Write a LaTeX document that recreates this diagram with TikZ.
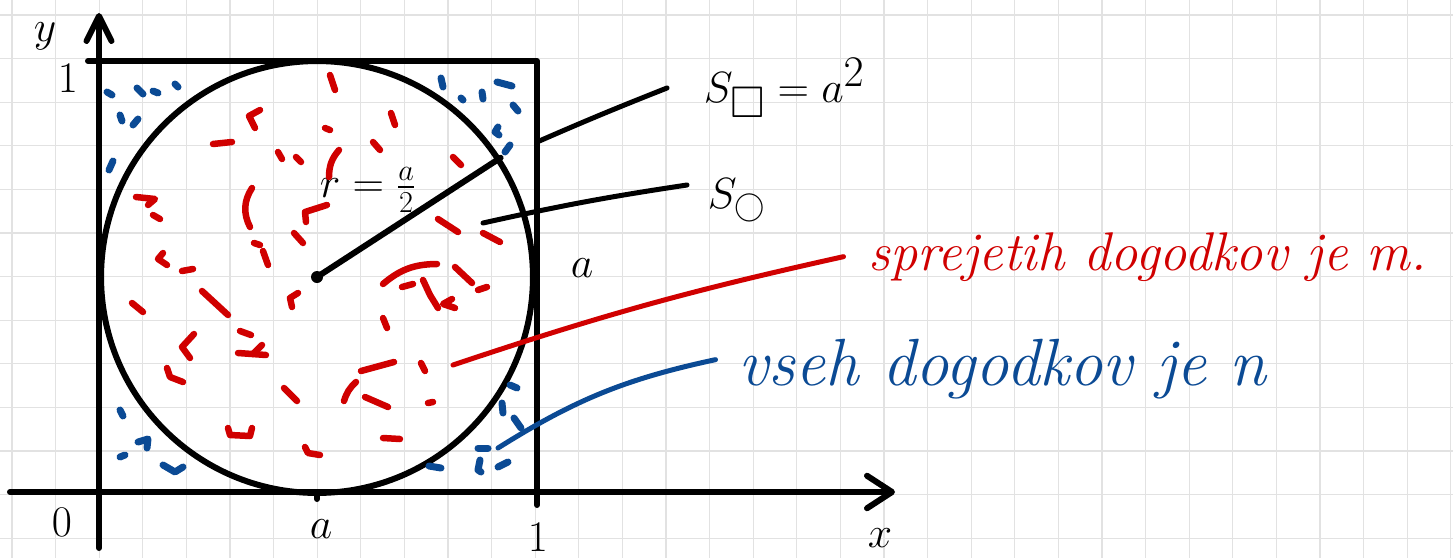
\documentclass[tikz,border=0pt]{standalone}
\usepackage{amsmath,amssymb}
\usepackage{xcolor}
\usepackage{tikz}
\usetikzlibrary{arrows.meta, positioning, calc}
\definecolor{redink}{HTML}{D00000}
\definecolor{blueink}{HTML}{0B4A94}
\definecolor{gridgray}{HTML}{E2E2E2}

\begin{document}
\begin{tikzpicture}[x=0.02cm, y=-0.02cm,
  ink/.style={line width=0.12cm, line cap=round, line join=round},
  leader/.style={line width=0.1cm, line cap=round},
  redmark/.style={draw=redink, line width=0.13cm, line cap=round, line join=round},
  bluemark/.style={draw=blueink, line width=0.14cm, line cap=round, line join=round},
  gridline/.style={gridgray, line width=0.6pt},
  lab/.style={inner sep=2pt, font=\fontsize{30}{36}\selectfont}]
  \useasboundingbox (0,0) rectangle (1453,558);

  % Paper grid
  \foreach \k in {0,...,33}
    \draw[gridline] ({12+43.6*\k},0) -- ({12+43.6*\k},558);
  \foreach \k in {0,...,12}
    \draw[gridline] (0,{15+43.6*\k}) -- (1453,{15+43.6*\k});

  % Axes
  \coordinate (xstart) at (10,492);
  \coordinate (xend) at (895,492);
  \coordinate (ystart) at (99,548);
  \coordinate (yend) at (99,13);
  \draw[ink, -{Straight Barb[length=5mm, width=6.5mm, round]}] (xstart) -- (xend);
  \draw[ink, -{Straight Barb[length=5mm, width=5mm, round]}] (ystart) -- (yend);

  % Square and circle
  \draw[ink] (88,61) -- (537,61) -- (537,505);
  \draw[ink] (317,492) -- (317,499);
  \node[ink, draw, circle, minimum size=8.64cm, inner sep=0pt] (circ) at (317,277) {};
  \fill (circ.center) circle (0.12cm);
  \draw[ink] (circ.center) -- (circ.33.8);

  % Axis labels
  \node[lab] (ylab) at (45,36) {$y$};
  \node[lab] (oneleft) at (68,78) {$1$};
  \node[lab] (zero) at (62,522) {$0$};
  \node[lab] (abot) at (321,529) {$a$};
  \node[lab] (onebot) at (538,537) {$1$};
  \node[lab] (xlab) at (880,538) {$x$};
  \node[lab] (aside) at (582,268) {$a$};
  \node[lab, font=\fontsize{25}{30}\selectfont] (rlab) at (368,190) {$r=\frac{a}{2}$};

  % Area labels
  \node[lab, anchor=west, font=\fontsize{36}{42}\selectfont] (sqlab) at (700,88) {$S_{\square}=a^2$};
  \node[lab, anchor=west, font=\fontsize{36}{42}\selectfont] (cirlab) at (704,200) {$S_{\scriptscriptstyle\bigcirc}$};
  \node[lab, anchor=base west, redink, font=\fontsize{31}{36}\selectfont\itshape] (acclab) at (865,270) {sprejetih dogodkov je m.};
  \node[lab, anchor=base west, blueink, font=\fontsize{38}{44}\selectfont\itshape] (alllab) at (735,385) {vseh dogodkov je n};

  % Leaders
  \coordinate (sqfoot) at (537,142);
  \coordinate (cirfoot) at (483,223);
  \coordinate (accfoot) at (453,365);
  \coordinate (allfoot) at (498,448);
  \draw[leader] (sqfoot) to[bend left=1] ([xshift=-0.66cm]sqlab.west);
  \draw[leader] (cirfoot) to[bend left=2] ([xshift=-0.34cm, yshift=0.3cm]cirlab.west);
  \draw[leader, redink] (accfoot) to[bend left=3] ([xshift=-0.43cm]acclab.west);
  \draw[leader, blueink] (allfoot) to[bend left=10] ([xshift=-0.39cm, yshift=0.18cm]alllab.west);

  % Accepted points (red)
  \draw[redmark] (260,110) -- (249,116) -- (255,128);
  \draw[redmark] (213,144) -- (232,142);
  \draw[redmark] (278,152) -- (282,159);
  \draw[redmark] (296,157) -- (301,162);
  \draw[redmark] (252,188) to[bend right=30] (250,227);
  \draw[redmark] (136,197) -- (155,199) -- (148,205);
  \draw[redmark] (153,215) -- (160,219);
  \draw[redmark] (327,205) -- (305,212) -- (306,222);
  \draw[redmark] (294,233) -- (303,243);
  \draw[redmark] (254,243) -- (260,245);
  \draw[redmark] (263,251) -- (268,265);
  \draw[redmark] (163,253) -- (158,259) -- (167,265);
  \draw[redmark] (182,271) -- (193,269);
  \draw[redmark] (330,75) -- (335,90);
  \draw[redmark] (391,113) -- (395,125);
  \draw[redmark] (325,128) -- (330,130);
  \draw[redmark] (373,142) -- (380,150);
  \draw[redmark] (339,150) to[bend right=20] (329,177);
  \draw[redmark] (453,157) -- (461,165);
  \draw[redmark] (438,219) -- (458,232);
  \draw[redmark] (483,233) -- (500,242);
  \draw[redmark] (383,284) to[bend left=20] (437,264);
  \draw[redmark] (455,267) -- (472,283);
  \draw[redmark] (402,287) -- (413,284);
  \draw[redmark] (423,280) -- (430,295) -- (438,308);
  \draw[redmark] (452,299) -- (443,304) -- (455,308);
  \draw[redmark] (478,290) -- (487,287);
  \draw[redmark] (383,318) -- (387,328);
  \draw[redmark] (361,371) -- (394,362);
  \draw[redmark] (421,363) -- (425,371);
  \draw[redmark] (356,382) to[bend right=15] (344,401);
  \draw[redmark] (365,397) -- (388,407);
  \draw[redmark] (428,403) -- (433,402);
  \draw[redmark] (383,438) -- (400,439);
  \draw[redmark] (305,447) -- (308,453) -- (320,455);
  \draw[redmark] (132,303) -- (143,312);
  \draw[redmark] (202,291) -- (228,315);
  \draw[redmark] (298,293) -- (290,298) -- (292,307);
  \draw[redmark] (194,334) -- (182,347) -- (190,358);
  \draw[redmark] (240,331) -- (251,335);
  \draw[redmark] (238,353) -- (266,355);
  \draw[redmark] (262,345) -- (253,354);
  \draw[redmark] (167,368) -- (170,377) -- (183,382);
  \draw[redmark] (284,388) -- (297,401);
  \draw[redmark] (228,428) -- (230,435) -- (250,436) -- (252,428);

  % All points (blue)
  \draw[bluemark] (107,92) -- (112,95);
  \draw[bluemark] (137,88) -- (143,94);
  \draw[bluemark] (153,91) -- (158,93);
  \draw[bluemark] (175,84) -- (178,87);
  \draw[bluemark] (120,115) -- (122,121);
  \draw[bluemark] (133,125) -- (138,119);
  \draw[bluemark] (109,170) -- (113,161);
  \draw[bluemark] (441,78) -- (443,87);
  \draw[bluemark] (461,98) -- (463,100);
  \draw[bluemark] (482,92) -- (483,99);
  \draw[bluemark] (497,82) -- (512,86);
  \draw[bluemark] (513,105) -- (518,111);
  \draw[bluemark] (498,127) -- (495,132) -- (499,135);
  \draw[bluemark] (510,145) -- (505,152);
  \draw[bluemark] (120,410) -- (123,416);
  \draw[bluemark] (138,442) -- (148,439) -- (147,448);
  \draw[bluemark] (120,457) -- (125,455);
  \draw[bluemark] (163,465) -- (175,472) -- (183,467);
  \draw[bluemark] (510,385) -- (517,388);
  \draw[bluemark] (502,403) -- (503,413);
  \draw[bluemark] (514,418) -- (521,428);
  \draw[bluemark] (478,448) -- (488,448);
  \draw[bluemark] (429,466) -- (441,468);
  \draw[bluemark] (480,460) -- (478,470) -- (481,472);
  \draw[bluemark] (498,467) -- (508,462);
\end{tikzpicture}
\end{document}
